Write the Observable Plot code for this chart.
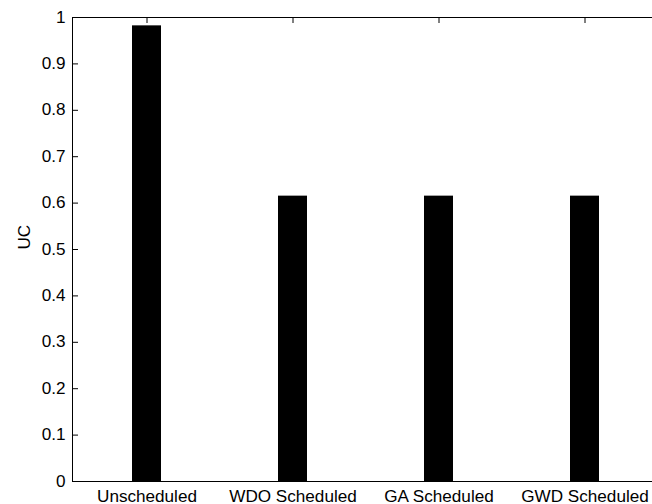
<!DOCTYPE html>
<html>
<head>
<meta charset="utf-8">
<script src="https://cdn.jsdelivr.net/npm/d3@7"></script>
<script src="https://cdn.jsdelivr.net/npm/@observablehq/plot@0.6"></script>
<style>
  html, body { margin: 0; padding: 0; background: #fff; overflow: hidden; }
  #chart { width: 652px; height: 504px; overflow: hidden; }
</style>
</head>
<body>
<div id="chart"></div>
<script>
const categories = ["Unscheduled", "WDO Scheduled", "GA Scheduled", "GWD Scheduled"];
const ucValues = [0.982, 0.615, 0.615, 0.615];
const yTicks = [0, 0.1, 0.2, 0.3, 0.4, 0.5, 0.6, 0.7, 0.8, 0.9, 1];
const yLabel = "UC";

const data = categories.map((c, i) => ({cat: c, value: ucValues[i]}));

const chart = Plot.plot({
  width: 652,
  height: 504,
  marginLeft: 72,
  marginRight: -6.6,
  marginTop: 17,
  marginBottom: 23,
  style: {fontFamily: "'Liberation Sans', Arial, Helvetica, sans-serif", fontSize: "16px", color: "#000", background: "#fff", overflow: "hidden"},
  x: {domain: categories, paddingInner: 0.8, paddingOuter: 0.4, label: null},
  y: {domain: [0, 1], label: null},
  marks: [
    Plot.barY(data, {x: "cat", y: "value", fill: "#000"}),
    Plot.frame({stroke: "#000"}),
    Plot.axisY({ticks: yTicks, tickSize: -6, tickPadding: 13, tickFormat: d => String(+d.toFixed(1)), label: null}),
    Plot.axisX({anchor: "bottom", tickSize: -5, tickPadding: 14, label: null}),
    Plot.axisX({anchor: "top", tickSize: -5, tickFormat: () => "", label: null}),
    Plot.text([yLabel], {text: d => d, frameAnchor: "left", dx: -48, rotate: -90, fontSize: 16})
  ]
});
document.getElementById("chart").appendChild(chart);

// Slight horizontal stretch of the text, as in the reference rendering
const stretch = 1.07;
d3.select(chart).selectAll("text").each(function() {
  const len = this.getComputedTextLength();
  if (len > 0) {
    this.setAttribute("textLength", (len * stretch).toFixed(2));
    this.setAttribute("lengthAdjust", "spacingAndGlyphs");
  }
});
</script>
</body>
</html>
